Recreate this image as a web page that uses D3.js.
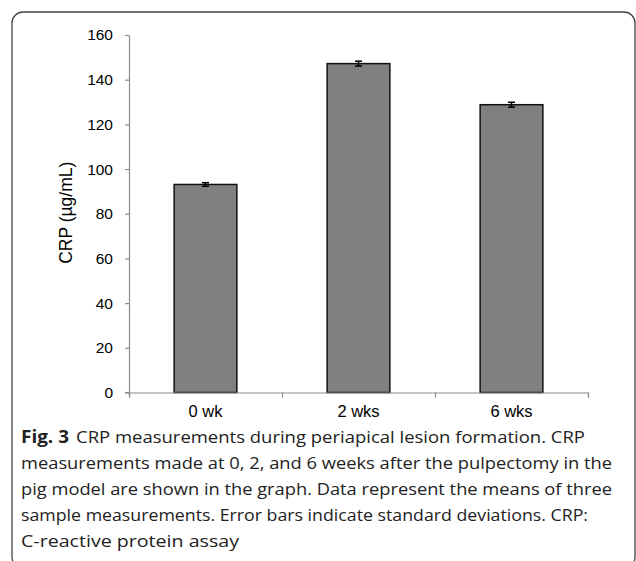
<!DOCTYPE html>
<html>
<head>
<meta charset="utf-8">
<script src="https://cdn.jsdelivr.net/npm/d3@7"></script>
<style>
  html, body { margin: 0; padding: 0; background: #fff; }
  svg { display: block; }
</style>
</head>
<body>
<svg id="chart" width="636" height="561"></svg>
<script>
const categories = ["0 wk", "2 wks", "6 wks"];
const means = [93.1, 147.2, 128.8];
const sds = [0.8, 1.1, 1.1];
const yTicks = [0, 20, 40, 60, 80, 100, 120, 140, 160];
const yTitle = "CRP (µg/mL)";
const captionBold = "Fig. 3";
const captionLines = [
  "CRP measurements during periapical lesion formation. CRP",
  "measurements made at 0, 2, and 6 weeks after the pulpectomy in the",
  "pig model are shown in the graph. Data represent the means of three",
  "sample measurements. Error bars indicate standard deviations. CRP:",
  "C-reactive protein assay"
];

const svg = d3.select("#chart");

// frame
svg.append("rect")
  .attr("x", 12).attr("y", 12)
  .attr("width", 623).attr("height", 556)
  .attr("rx", 11).attr("ry", 11)
  .attr("fill", "none").attr("stroke", "#444").attr("stroke-width", 1.3);

const plot = { left: 129, right: 588, top: 35, bottom: 392.5 };
const axisFont = "'Liberation Sans', Arial, sans-serif";

const x = d3.scaleBand().domain(categories)
  .range([plot.left, plot.right]).paddingInner(0.59).paddingOuter(0.295);
const y = d3.scaleLinear().domain([0, 160]).range([plot.bottom, plot.top]);

const g = svg.append("g");

// Y axis
const yAxis = g.append("g")
  .attr("transform", `translate(${plot.left},0)`)
  .call(d3.axisLeft(y).tickValues(yTicks).tickSize(4).tickPadding(12).tickSizeOuter(0));
yAxis.select(".domain").attr("stroke", "#8c8c8c").attr("stroke-width", 1.2);
yAxis.selectAll(".tick line").attr("stroke", "#8c8c8c").attr("stroke-width", 1.2);
yAxis.selectAll(".tick text")
  .attr("font-family", axisFont)
  .attr("font-size", 15.5).attr("fill", "#000");

// bars
g.selectAll("rect.bar").data(categories).join("rect")
  .attr("class", "bar")
  .attr("x", d => x(d))
  .attr("width", x.bandwidth())
  .attr("y", (d, i) => y(means[i]))
  .attr("height", (d, i) => y(0) - y(means[i]))
  .attr("fill", "#808080")
  .attr("stroke", "#111")
  .attr("stroke-width", 1.5);

// error bars
const eb = g.selectAll("g.err").data(categories).join("g").attr("class", "err");
eb.append("line")
  .attr("x1", d => x(d) + x.bandwidth() / 2)
  .attr("x2", d => x(d) + x.bandwidth() / 2)
  .attr("y1", (d, i) => y(means[i] + sds[i]))
  .attr("y2", (d, i) => y(means[i] - sds[i]))
  .attr("stroke", "#000").attr("stroke-width", 1.5);
[1, -1].forEach(s => {
  eb.append("line")
    .attr("x1", d => x(d) + x.bandwidth() / 2 - 3.5)
    .attr("x2", d => x(d) + x.bandwidth() / 2 + 3.5)
    .attr("y1", (d, i) => y(means[i] + s * sds[i]))
    .attr("y2", (d, i) => y(means[i] + s * sds[i]))
    .attr("stroke", "#000").attr("stroke-width", 1.5);
});

// X axis
const xAxisScale = d3.scaleLinear().domain([0, categories.length]).range([plot.left, plot.right]);
const xAxis = g.append("g").attr("transform", `translate(0,${plot.bottom})`);
xAxis.call(d3.axisBottom(xAxisScale).tickValues(d3.range(categories.length + 1)).tickSize(5).tickFormat(""));
xAxis.select(".domain").attr("stroke", "#8c8c8c").attr("stroke-width", 1.2);
xAxis.selectAll(".tick line").attr("stroke", "#8c8c8c").attr("stroke-width", 1.2);
xAxis.append("line").attr("x1", plot.left - 4).attr("x2", plot.left).attr("y1", 0).attr("y2", 0)
  .attr("stroke", "#8c8c8c").attr("stroke-width", 1.2);

g.selectAll("text.xlab").data(categories).join("text")
  .attr("class", "xlab")
  .attr("x", d => x(d) + x.bandwidth() / 2)
  .attr("y", plot.bottom + 24)
  .attr("text-anchor", "middle")
  .attr("font-family", axisFont)
  .attr("font-size", 16.5).attr("fill", "#000")
  .text(d => d);

// Y title
svg.append("text")
  .attr("transform", `translate(72,${(plot.top + plot.bottom) / 2 - 1}) rotate(-90)`)
  .attr("text-anchor", "middle")
  .attr("font-family", axisFont)
  .attr("font-size", 17.5).attr("fill", "#000")
  .text(yTitle);

// caption
const capFont = "'Open Sans', 'Noto Sans', sans-serif";
const lineEnds = [585, 612, 612, 588, 239];
const cap = svg.append("g");
const first = cap.append("text")
  .attr("x", 21).attr("y", 443)
  .attr("font-family", capFont).attr("font-size", 17).attr("fill", "#222");
first.append("tspan").attr("font-weight", "bold").text(captionBold)
  .attr("textLength", 48).attr("lengthAdjust", "spacingAndGlyphs");
first.append("tspan").attr("x", 76).text(captionLines[0])
  .attr("textLength", lineEnds[0] - 76).attr("lengthAdjust", "spacingAndGlyphs");
captionLines.slice(1).forEach((t, i) => {
  cap.append("text")
    .attr("x", 21).attr("y", 443 + 26 * (i + 1))
    .attr("font-family", capFont).attr("font-size", 17).attr("fill", "#222")
    .attr("textLength", lineEnds[i + 1] - 21).attr("lengthAdjust", "spacingAndGlyphs")
    .text(t);
});
</script>
</body>
</html>
